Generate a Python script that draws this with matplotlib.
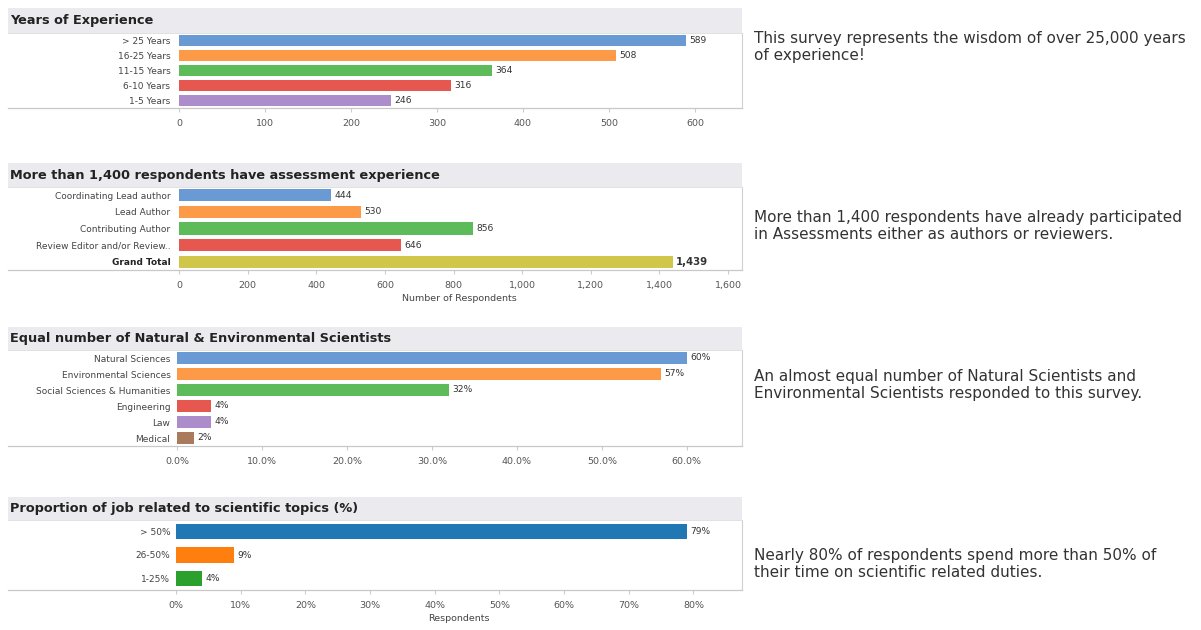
import matplotlib.pyplot as plt
from matplotlib.patches import Rectangle
from matplotlib.lines import Line2D
from matplotlib.ticker import FuncFormatter

W, H = 1201, 630

# data
exp_labels = ['> 25 Years', '16-25 Years', '11-15 Years', '6-10 Years', '1-5 Years']
exp_values = [589, 508, 364, 316, 246]

role_labels = ['Coordinating Lead author', 'Lead Author', 'Contributing Author',
               'Review Editor and/or Review..', 'Grand Total']
role_values = [444, 530, 856, 646, 1439]

field_labels = ['Natural Sciences', 'Environmental Sciences', 'Social Sciences & Humanities',
                'Engineering', 'Law', 'Medical']
field_values = [60, 57, 32, 4, 4, 2]

job_labels = ['> 50%', '26-50%', '1-25%']
job_values = [79, 9, 4]

titles = ['Years of Experience',
          'More than 1,400 respondents have assessment experience',
          'Equal number of Natural & Environmental Scientists',
          'Proportion of job related to scientific topics (%)']
notes = ['This survey represents the wisdom of over 25,000 years\nof experience!',
         'More than 1,400 respondents have already participated\nin Assessments either as authors or reviewers.',
         'An almost equal number of Natural Scientists and\nEnvironmental Scientists responded to this survey.',
         'Nearly 80% of respondents spend more than 50% of\ntheir time on scientific related duties.']

tab_med = ['#6a9ad4', '#fd9a47', '#5dbb59', '#e6584f', '#ad8ccb', '#a97a5c']
tab_classic = ['#1f77b4', '#ff7f0e', '#2ca02c']
grand_col = '#cfc64a'

fig = plt.figure(figsize=(W / 100, H / 100), dpi=100)
fig.patch.set_facecolor('white')


def px_axes(l, t, r, b):
    return fig.add_axes([l / W, 1 - b / H, (r - l) / W, (b - t) / H])


def panel(band, plot, labels, values, colors, xlim, ticks, fmt, vfmt,
          title, note, note_y, height=0.74, xlabel=None, bold_last=False):
    # title band
    fig.add_artist(Rectangle((8 / W, 1 - band[1] / H), (742 - 8) / W, (band[1] - band[0]) / H,
                             transform=fig.transFigure, facecolor='#ebebef', edgecolor='none'))
    fig.text(10 / W, 1 - (band[0] + band[1]) / 2 / H, title, fontsize=9.3, fontweight='bold',
             color='#222222', va='center', ha='left')
    # rules across row headers
    fig.add_artist(Line2D([8 / W, 742 / W], [1 - plot[1] / H] * 2, transform=fig.transFigure,
                          color='#c8c8c8', lw=0.9))
    fig.add_artist(Line2D([8 / W, 742 / W], [1 - plot[0] / H] * 2, transform=fig.transFigure,
                          color='#dcdcdc', lw=0.6))

    ax = px_axes(176, plot[0], 742, plot[1])
    y = list(range(len(labels)))
    ax.barh(y, values, height=height, color=colors, zorder=2)
    ax.set_ylim(len(labels) - 0.5, -0.5)
    ax.set_xlim(*xlim)
    ax.set_yticks(y)
    ax.set_yticklabels(labels, fontsize=6.5, color='#444444')
    if bold_last:
        ax.get_yticklabels()[-1].set_fontweight('bold')
        ax.get_yticklabels()[-1].set_color('#222222')
    ax.tick_params(axis='y', length=0, pad=4)
    ax.set_xticks(ticks)
    ax.xaxis.set_major_formatter(FuncFormatter(fmt))
    ax.tick_params(axis='x', length=3, color='#cccccc', labelsize=6.8, labelcolor='#555555', pad=5)
    for s in ['top', 'left', 'bottom']:
        ax.spines[s].set_visible(False)
    ax.spines['right'].set_color('#d0d0d0')
    ax.spines['right'].set_linewidth(0.8)
    for i, v in enumerate(values):
        last = bold_last and i == len(values) - 1
        ax.text(v + (xlim[1] - xlim[0]) * 0.006, i, vfmt(v), fontsize=7.3 if last else 6.6,
                fontweight='bold' if last else 'normal', color='#333333', va='center', ha='left')
    if xlabel:
        ax.set_xlabel(xlabel, fontsize=6.8, color='#444444', labelpad=3)
    fig.text(754 / W, 1 - note_y / H, note, fontsize=11, color='#333333', va='center', ha='left',
             family='DejaVu Sans', linespacing=1.15)
    return ax


panel((8, 33), (33, 108), exp_labels, exp_values, tab_med[:5], (-3.5, 654.7),
      [0, 100, 200, 300, 400, 500, 600], lambda v, p: f'{v:.0f}', lambda v: f'{v}',
      titles[0], notes[0], 47)

panel((163, 187), (187, 270), role_labels, role_values, tab_med[:4] + [grand_col], (-9, 1641),
      [0, 200, 400, 600, 800, 1000, 1200, 1400, 1600], lambda v, p: f'{v:,.0f}', lambda v: f'{v:,}',
      titles[1], notes[1], 226, xlabel='Number of Respondents', bold_last=True)

panel((327, 350), (350, 446), field_labels, field_values, tab_med, (-0.12, 66.5),
      [0, 10, 20, 30, 40, 50, 60], lambda v, p: f'{v:.1f}%', lambda v: f'{v}%',
      titles[2], notes[2], 385)

panel((497, 520), (520, 590), job_labels, job_values, tab_classic, (0, 87.5),
      [0, 10, 20, 30, 40, 50, 60, 70, 80], lambda v, p: f'{v:.0f}%', lambda v: f'{v}%',
      titles[3], notes[3], 564, height=0.66, xlabel='Respondents')

fig.savefig('out.png', dpi=100, facecolor='white')
